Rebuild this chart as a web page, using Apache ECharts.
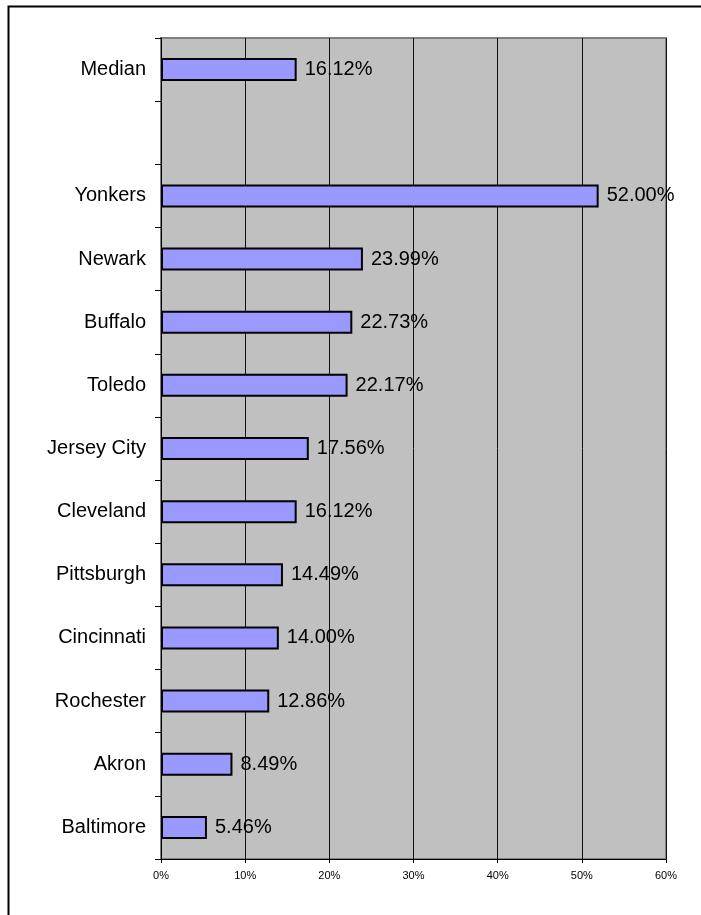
<!DOCTYPE html>
<html>
<head>
<meta charset="utf-8">
<script src="https://cdn.jsdelivr.net/npm/echarts@6/dist/echarts.min.js"></script>
<style>
  html, body { margin: 0; padding: 0; background: #fff; }
  #chart { width: 701px; height: 915px; }
</style>
</head>
<body>
<div id="chart"></div>
<script>
// City names, top to bottom; the empty slot separates the median row
const cities = ['Median', '', 'Yonkers', 'Newark', 'Buffalo', 'Toledo', 'Jersey City',
  'Cleveland', 'Pittsburgh', 'Cincinnati', 'Rochester', 'Akron', 'Baltimore'];
// Share in percent for each city
const shares = [16.12, null, 52.00, 23.99, 22.73, 22.17, 17.56,
  16.12, 14.49, 14.00, 12.86, 8.49, 5.46];
// Horizontal axis range and step (percent)
const axisMax = 60;
const axisStep = 10;

const FONT = 'Liberation Sans, Arial, sans-serif';
const chart = echarts.init(document.getElementById('chart'), null, { renderer: 'canvas' });

chart.setOption({
  animation: false,
  backgroundColor: '#ffffff',
  graphic: [
    {
      type: 'polyline',
      shape: { points: [[8.5, 915], [8.5, 6.5], [701, 6.5]] },
      style: { stroke: '#000', lineWidth: 2, fill: null },
      silent: true
    }
  ],
  grid: {
    left: 161, top: 38, right: 35, bottom: 56,
    show: true,
    backgroundColor: '#c0c0c0',
    borderColor: '#808080',
    borderWidth: 2
  },
  xAxis: {
    type: 'value',
    min: 0,
    max: axisMax,
    interval: axisStep,
    axisLine: { show: true, lineStyle: { color: '#000', width: 1 } },
    axisTick: { show: true, length: 4, lineStyle: { color: '#000' } },
    axisLabel: {
      formatter: v => v + '%',
      fontFamily: FONT,
      fontSize: 11,
      color: '#000',
      margin: 11
    },
    splitLine: { show: true, lineStyle: { color: '#111', width: 1 } }
  },
  yAxis: {
    type: 'category',
    data: cities,
    inverse: true,
    axisLine: { show: true, onZero: false, lineStyle: { color: '#000', width: 1 } },
    axisTick: { show: true, length: 6, alignWithLabel: false, lineStyle: { color: '#000' } },
    axisLabel: {
      fontFamily: FONT,
      fontSize: 20,
      color: '#000',
      margin: 15
    },
    splitLine: { show: false }
  },
  series: [
    {
      type: 'bar',
      data: shares,
      barWidth: 23,
      itemStyle: {
        color: '#9999ff',
        borderColor: '#000',
        borderWidth: 2
      },
      label: {
        show: true,
        position: 'right',
        distance: 8,
        formatter: p => (p.value == null ? '' : p.value.toFixed(2) + '%'),
        fontFamily: FONT,
        fontSize: 20,
        color: '#000'
      }
    }
  ]
});
</script>
</body>
</html>
